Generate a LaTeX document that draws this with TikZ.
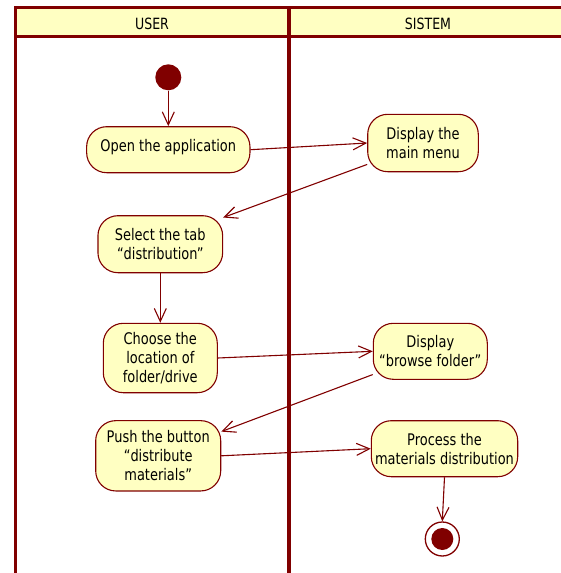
\documentclass[tikz,border=0pt]{standalone}
\usepackage{fontspec}
\setmainfont{DejaVu Sans}[FakeStretch=0.81]
\usetikzlibrary{arrows.meta}
\definecolor{umlred}{RGB}{128,0,0}
\definecolor{umlfill}{RGB}{255,255,194}
\begin{document}
\begin{tikzpicture}[x=1pt,y=-1pt,
  act/.style={draw=umlred, fill=umlfill, line width=1.1pt, rounded corners=20pt,
    inner sep=0pt, align=center, font=\fontsize{16}{19}\selectfont},
  flow/.style={draw=umlred, line width=1.1pt,
    -{Straight Barb[length=13pt,width=12pt,line width=1.1pt]}},
  lane/.style={draw=umlred, line width=3pt},
  lanelabel/.style={font=\fontsize{15.5}{18}\selectfont, inner sep=0pt},
  initnode/.style={circle, fill=umlred, minimum size=26pt, inner sep=0pt},
  finalouter/.style={circle, draw=umlred, fill=white, line width=1.3pt, minimum size=34pt, inner sep=0pt},
  finalinner/.style={circle, fill=umlred, minimum size=22pt, inner sep=0pt}]
\useasboundingbox (0,0) rectangle (561,573);
\begin{scope}
  \clip (0,0) rectangle (561,573);
  \fill[umlfill] (15,7) rectangle (567,36);
  \draw[lane] (15,580) -- (15,7) -- (567,7);
  \draw[lane] (15,36) -- (567,36);
  \draw[umlred, line width=4.5pt] (289,7) -- (289,580);
\end{scope}
\node[lanelabel] (userlbl) at (152,23.5) {USER};
\node[lanelabel] (syslbl) at (428,23.5) {SISTEM};

\node[initnode] (init) at (168.3,77.3) {};
\node[act, minimum width=163.3pt, minimum height=46pt, text depth=9pt] (open) at (168.3,149.7) {Open the application};
\node[act, minimum width=110.6pt, minimum height=57.4pt] (menu) at (423,143) {Display the\\main menu};
\node[act, minimum width=124.7pt, minimum height=57pt] (select) at (160.3,244.2) {Select the tab\\“distribution”};
\node[act, minimum width=114pt, minimum height=69.4pt] (choose) at (160.3,358) {Choose the\\location of\\folder/drive};
\node[act, minimum width=114pt, minimum height=56pt] (browse) at (430.3,351.3) {Display\\“browse folder”};
\node[act, minimum width=125pt, minimum height=70.3pt] (push) at (158.2,455.8) {Push the button\\“distribute\\materials”};
\node[act, minimum width=146.4pt, minimum height=56pt] (process) at (444.5,448.7) {Process the\\materials distribution};
\node[finalouter] (final) at (442.3,539) {};
\node[finalinner] (finalin) at (final.center) {};

\draw[flow] (init.south) -- (open.north);
\draw[flow] (open.east) -- (menu.west);
\draw[flow] (menu.201) -- (select.23);
\draw[flow] (select.south) -- (choose.north);
\draw[flow] (choose.east) -- (browse.west);
\draw[flow] (browse.202) -- (push.21);
\draw[flow] (push.east) -- (process.west);
\draw[flow] (process.south) -- (final.north);
\end{tikzpicture}
\end{document}
